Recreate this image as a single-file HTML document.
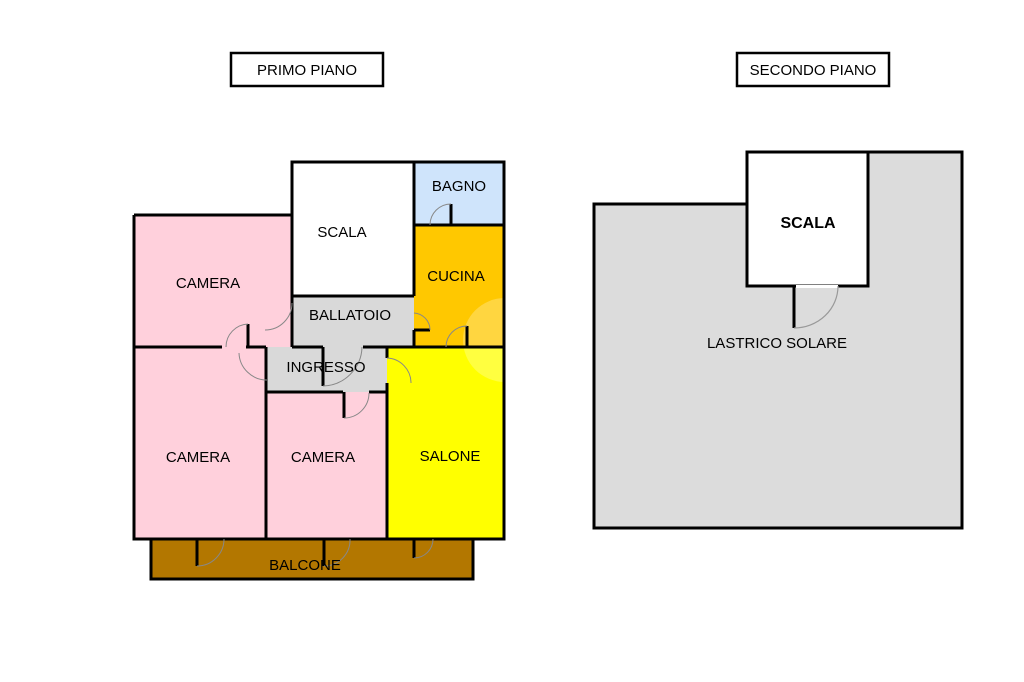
<!DOCTYPE html>
<html><head><meta charset="utf-8"><style>
html,body{margin:0;padding:0;background:#fff;}
svg{display:block;font-family:"Liberation Sans",sans-serif;}
text{font-size:15px;fill:#000;text-anchor:middle;}
</style></head><body>
<svg width="1024" height="682" viewBox="0 0 1024 682" xmlns="http://www.w3.org/2000/svg">
<rect x="231" y="53" width="152" height="33" fill="#fff" stroke="#000" stroke-width="2.5"/>
<text x="307" y="75">PRIMO PIANO</text>
<rect x="737" y="53" width="152" height="33" fill="#fff" stroke="#000" stroke-width="2.5"/>
<text x="813" y="75">SECONDO PIANO</text>

<rect x="151" y="539" width="322" height="40" fill="#b37700" stroke="#000" stroke-width="3"/>
<rect x="134" y="215" width="158" height="132" fill="#ffd0dc"/>
<rect x="292" y="162" width="122" height="134" fill="#fff"/>
<rect x="414" y="162" width="90" height="63" fill="#cfe4fb"/>
<rect x="414" y="225" width="90" height="122" fill="#ffc800"/>
<rect x="292" y="296" width="122" height="51" fill="#d9d9d9"/>
<rect x="267" y="347" width="120" height="45" fill="#d9d9d9"/>
<rect x="134" y="347" width="132" height="192" fill="#ffd0dc"/>
<rect x="266" y="392" width="121" height="147" fill="#ffd0dc"/>
<rect x="387" y="347" width="117" height="192" fill="#ffff00"/>
<circle cx="505" cy="340" r="42" fill="#fff" opacity="0.25"/>

<g stroke="#000" stroke-width="3" fill="none">
<polyline points="134,215 292,215 292,162 504,162 504,539 134,539 134,215"/>
<line x1="414" y1="162" x2="414" y2="296"/>
<line x1="292" y1="296" x2="414" y2="296"/>
<line x1="414" y1="225" x2="504" y2="225"/>
<line x1="292" y1="215" x2="292" y2="347"/>
<line x1="134" y1="347" x2="222" y2="347"/>
<line x1="246" y1="347" x2="266" y2="347"/>
<line x1="414" y1="330" x2="414" y2="347"/>
<line x1="292" y1="347" x2="323" y2="347"/>
<line x1="363" y1="347" x2="504" y2="347"/>
<line x1="266" y1="347" x2="266" y2="539"/>
<line x1="266" y1="392" x2="343" y2="392"/>
<line x1="369" y1="392" x2="387" y2="392"/>
<line x1="387" y1="347" x2="387" y2="358"/>
<line x1="387" y1="383" x2="387" y2="539"/>
<line x1="134" y1="539" x2="504" y2="539"/>
<line x1="451" y1="204" x2="451" y2="225"/>
<line x1="248" y1="324" x2="248" y2="347"/>
<line x1="323" y1="347" x2="323" y2="386"/>
<line x1="344" y1="392" x2="344" y2="418"/>
<line x1="467" y1="326" x2="467" y2="347"/>
<line x1="197" y1="539" x2="197" y2="566"/>
<line x1="324" y1="539" x2="324" y2="566"/>
<line x1="414" y1="539" x2="414" y2="558"/>
<line x1="414" y1="330" x2="430" y2="330"/>
</g>
<g stroke="#888" stroke-width="1" fill="none">
<path d="M451,204 A21,21 0 0 0 430,225"/>
<path d="M292,303 A27,27 0 0 1 265,330"/>
<path d="M248,324 A23,23 0 0 0 226,347"/>
<path d="M267,380 A28,28 0 0 1 239,353"/>
<path d="M323,386 A40,40 0 0 0 362,347"/>
<path d="M344,418 A25,25 0 0 0 369,393"/>
<path d="M467,326 A21,21 0 0 0 446,347"/>
<path d="M387,358 A25,25 0 0 1 411,383"/>
<path d="M414,313 A17,17 0 0 1 430,330"/>
<path d="M197,566 A27,27 0 0 0 224,539"/>
<path d="M324,566 A26,26 0 0 0 350,539"/>
<path d="M414,558 A19,19 0 0 0 433,539"/>
</g>
<text x="208" y="288">CAMERA</text>
<text x="342" y="237">SCALA</text>
<text x="459" y="191">BAGNO</text>
<text x="456" y="281">CUCINA</text>
<text x="350" y="320">BALLATOIO</text>
<text x="326" y="372">INGRESSO</text>
<text x="198" y="462">CAMERA</text>
<text x="323" y="462">CAMERA</text>
<text x="450" y="461">SALONE</text>
<text x="305" y="570">BALCONE</text>

<polygon points="594,204 747,204 747,152 962,152 962,528 594,528" fill="#dcdcdc" stroke="#000" stroke-width="3"/>
<rect x="747" y="152" width="121" height="134" fill="#fff" stroke="#000" stroke-width="3"/>
<rect x="796" y="285" width="42" height="3" fill="#fff"/>
<line x1="794" y1="286" x2="794" y2="328" stroke="#000" stroke-width="3"/>
<path d="M794,328 A44,42 0 0 0 838,286" stroke="#999" stroke-width="1.2" fill="none"/>
<text x="808" y="228" style="font-size:16px;font-weight:bold">SCALA</text>
<text x="777" y="348">LASTRICO SOLARE</text>
</svg>
</body></html>
